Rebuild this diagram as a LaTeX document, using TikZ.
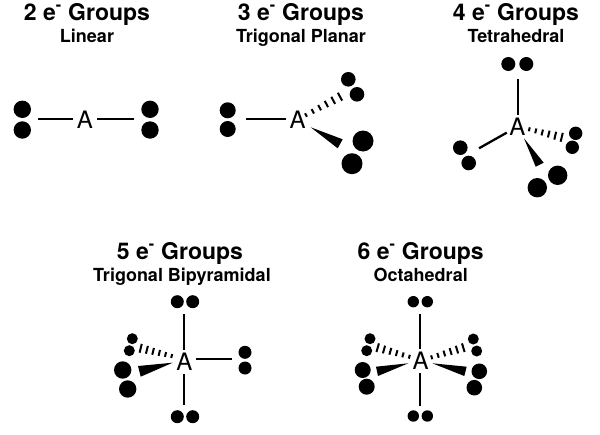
\documentclass[tikz,border=0pt]{standalone}
\usepackage{fontspec}
\setmainfont{TeX Gyre Heros}
\usetikzlibrary{calc}

\tikzset{
	grouptitle/.style={anchor=base, inner sep=0pt, font=\fontsize{23}{26}\selectfont\bfseries},
	shapename/.style={anchor=base, inner sep=0pt, font=\fontsize{18}{21}\selectfont\bfseries},
	centre/.style={circle, inner sep=0pt, minimum size=23pt, font=\fontsize{24}{27}\selectfont},
	dot/.style={circle, fill=black, inner sep=0pt, minimum size=#1},
	bond/.style={line width=2.3pt},
	hashmark/.style={line width=2pt}
}

% hashed bond, from the narrow end to the wide end
\newcommand{\hashbond}[2]{
	\foreach \pos/\len in {0/2pt, 0.2/2.5pt, 0.4/3pt, 0.6/3.5pt, 0.8/4pt, 1/4.5pt}
		\draw[hashmark] ($(#1)!\pos!(#2) + (#1)!\len!90:(#2) - (#1)$) -- ($(#1)!\pos!(#2) - (#1)!\len!90:(#2) + (#1)$);
}

\begin{document}
\begin{tikzpicture}[x=1pt, y=-1pt]
	\useasboundingbox (0,0) rectangle (600,434);

	% 2 groups
	\node[grouptitle] (titleA) at (87,20) {2 e\textsuperscript{-} Groups};
	\node[shapename] (nameA) at (87,42.7) {Linear};
	\node[centre] (a2) at (85,120) {A};
	\node[dot=17.4pt] (a2l1) at (22.3,109.3) {};
	\node[dot=17.4pt] (a2l2) at (22.3,130) {};
	\node[dot=17.4pt] (a2r1) at (150,109.3) {};
	\node[dot=17.4pt] (a2r2) at (150,130) {};
	\coordinate (a2l) at (38.3,119);
	\coordinate (a2r) at (134.3,119);
	\draw[bond] (a2l) -- (a2l -| a2.west);
	\draw[bond] (a2r) -- (a2r -| a2.east);

	% 3 groups
	\node[grouptitle] (titleB) at (301,20) {3 e\textsuperscript{-} Groups};
	\node[shapename] (nameB) at (301,42.7) {Trigonal Planar};
	\node[centre] (a3) at (297.7,120) {A};
	\node[dot=16pt] (a3l1) at (227.7,110.3) {};
	\node[dot=16pt] (a3l2) at (227.7,129) {};
	\node[dot=14.6pt] (a3h1) at (348.3,79.3) {};
	\node[dot=14.6pt] (a3h2) at (357,94.3) {};
	\node[dot=21pt] (a3w1) at (363,141) {};
	\node[dot=21pt] (a3w2) at (352,163.7) {};
	\coordinate (a3l) at (246,119);
	\draw[bond] (a3l) -- (a3l -| a3.west);
	\coordinate (a3hs) at (306,115);
	\coordinate (a3he) at (340,96.7);
	\hashbond{a3hs}{a3he}
	\coordinate (a3t) at (310.7,127.3);
	\coordinate (a3b1) at (342.7,139.3);
	\coordinate (a3b2) at (337.7,148.3);
	\fill (a3t) -- (a3b1) -- (a3b2) -- cycle;

	% 4 groups
	\node[grouptitle] (titleC) at (516,20) {4 e\textsuperscript{-} Groups};
	\node[shapename] (nameC) at (516,42.7) {Tetrahedral};
	\node[centre] (a4) at (517.3,126.7) {A};
	\node[dot=14pt] (a4u1) at (508.3,64) {};
	\node[dot=14pt] (a4u2) at (526.3,64) {};
	\node[dot=14.6pt] (a4l1) at (460.3,147.7) {};
	\node[dot=14.6pt] (a4l2) at (468.7,163) {};
	\node[dot=13.4pt] (a4h1) at (575.7,133.3) {};
	\node[dot=13.4pt] (a4h2) at (572.3,147.3) {};
	\node[dot=19.4pt] (a4w1) at (557.7,175.3) {};
	\node[dot=19.4pt] (a4w2) at (537.3,187.7) {};
	\coordinate (a4u) at (517.7,79.3);
	\coordinate (a4l) at (479,148.3);
	\draw[bond] (a4u) -- (a4u |- a4.north);
	\draw[bond] (a4) -- (a4l);
	\coordinate (a4hs) at (529.3,129.3);
	\coordinate (a4he) at (561.7,137.3);
	\hashbond{a4hs}{a4he}
	\coordinate (a4t) at (524,138.3);
	\coordinate (a4b1) at (543.7,162.7);
	\coordinate (a4b2) at (535.7,166.7);
	\fill (a4t) -- (a4b1) -- (a4b2) -- cycle;

	% 5 groups
	\node[grouptitle] (titleD) at (180,259) {5 e\textsuperscript{-} Groups};
	\node[shapename] (nameD) at (182,281.7) {Trigonal Bipyramidal};
	\node[centre] (a5) at (184.3,361.7) {A};
	\node[dot=13pt] (a5u1) at (177.3,301.7) {};
	\node[dot=13pt] (a5u2) at (192.7,301.7) {};
	\node[dot=13pt] (a5d1) at (177.3,416.7) {};
	\node[dot=13pt] (a5d2) at (192.7,416.7) {};
	\node[dot=13pt] (a5r1) at (245,352.3) {};
	\node[dot=13pt] (a5r2) at (245,368) {};
	\node[dot=11pt] (a5h1) at (132.3,338.7) {};
	\node[dot=11pt] (a5h2) at (129.3,350.7) {};
	\node[dot=17.4pt] (a5w1) at (122.7,370) {};
	\node[dot=17.4pt] (a5w2) at (127.7,389) {};
	\coordinate (a5u) at (184,314);
	\coordinate (a5d) at (184,405);
	\coordinate (a5r) at (231.7,359.3);
	\draw[bond] (a5u) -- (a5u |- a5.north);
	\draw[bond] (a5d) -- (a5d |- a5.south);
	\draw[bond] (a5r) -- (a5r -| a5.east);
	\coordinate (a5hs) at (171.7,356);
	\coordinate (a5he) at (140.7,348.3);
	\hashbond{a5hs}{a5he}
	\coordinate (a5t) at (172.7,362.7);
	\coordinate (a5b1) at (138,366);
	\coordinate (a5b2) at (140.7,376.7);
	\fill (a5t) -- (a5b1) -- (a5b2) -- cycle;

	% 6 groups
	\node[grouptitle] (titleE) at (420.7,259) {6 e\textsuperscript{-} Groups};
	\node[shapename] (nameE) at (420.7,281.7) {Octahedral};
	\node[centre] (a6) at (420.7,360.7) {A};
	\node[dot=11.4pt] (a6u1) at (413.3,301.7) {};
	\node[dot=11.4pt] (a6u2) at (427.3,301.7) {};
	\node[dot=11.4pt] (a6d1) at (413.3,416) {};
	\node[dot=11.4pt] (a6d2) at (427.3,416) {};
	\node[dot=11pt] (a6h1) at (370,338.7) {};
	\node[dot=11pt] (a6h2) at (366.7,350.7) {};
	\node[dot=16pt] (a6w1) at (362.7,370) {};
	\node[dot=16pt] (a6w2) at (366.7,386.7) {};
	\node[dot=11pt] (a6h3) at (473.3,339) {};
	\node[dot=11pt] (a6h4) at (476.7,351) {};
	\node[dot=15.6pt] (a6w3) at (479.3,371.3) {};
	\node[dot=15.6pt] (a6w4) at (474.3,387.7) {};
	\coordinate (a6u) at (420.3,314);
	\coordinate (a6d) at (420.3,405.7);
	\draw[bond] (a6u) -- (a6u |- a6.north);
	\draw[bond] (a6d) -- (a6d |- a6.south);
	\coordinate (a6hs) at (409.3,356.7);
	\coordinate (a6he) at (377.7,347.7);
	\hashbond{a6hs}{a6he}
	\coordinate (a6hu) at (431.7,357.3);
	\coordinate (a6hv) at (463.3,347.7);
	\hashbond{a6hu}{a6hv}
	\coordinate (a6t) at (408.3,363.3);
	\coordinate (a6b1) at (376,366.7);
	\coordinate (a6b2) at (378,376);
	\fill (a6t) -- (a6b1) -- (a6b2) -- cycle;
	\coordinate (a6s) at (432.3,363.3);
	\coordinate (a6b3) at (466.7,366.7);
	\coordinate (a6b4) at (464.3,376);
	\fill (a6s) -- (a6b3) -- (a6b4) -- cycle;
\end{tikzpicture}
\end{document}
